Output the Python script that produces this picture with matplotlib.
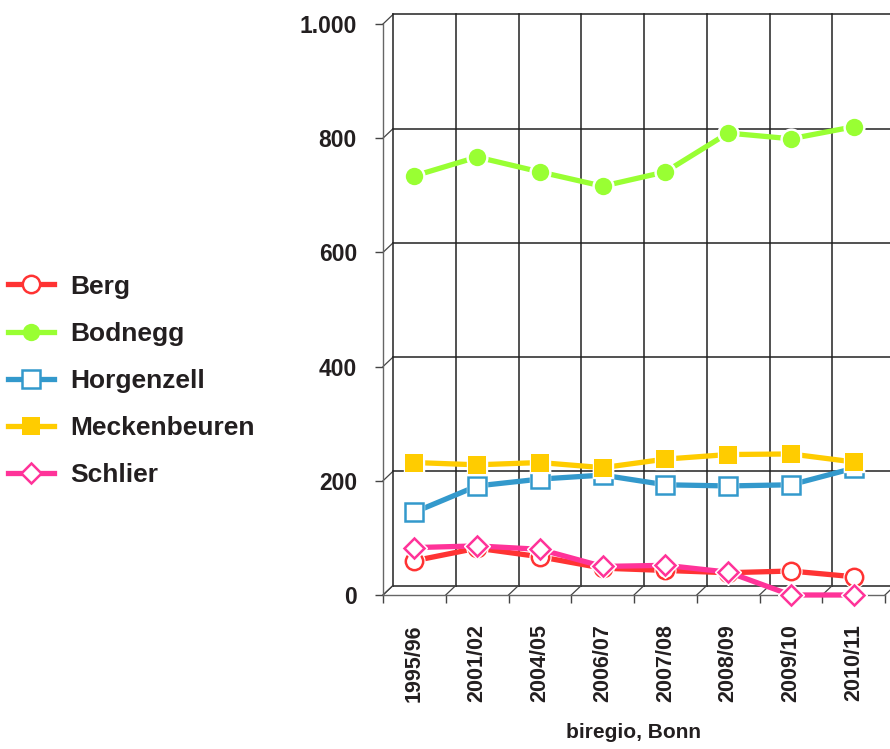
import matplotlib
matplotlib.use('Agg')
import matplotlib.pyplot as plt
from matplotlib.lines import Line2D

plt.rcParams['font.family'] = ['Liberation Sans', 'DejaVu Sans']
plt.rcParams['font.weight'] = 'bold'

# data
categories = ['1995/96', '2001/02', '2004/05', '2006/07', '2007/08', '2008/09', '2009/10', '2010/11']
berg = [60, 82, 67, 47, 43, 39, 42, 32]
bodnegg = [734, 767, 741, 716, 741, 809, 799, 820]
horgenzell = [145, 191, 203, 210, 193, 191, 193, 222]
meckenbeuren = [232, 228, 232, 223, 238, 246, 247, 233]
schlier = [83, 86, 80, 50, 52, 40, 0, 0]
y_ticks = [0, 200, 400, 600, 800, 1000]
y_labels = ['0', '200', '400', '600', '800', '1.000']
source = 'biregio, Bonn'

series = [
    ('Berg', berg, '#ff3333', 'o', 'white'),
    ('Bodnegg', bodnegg, '#99ff33', 'o', None),
    ('Horgenzell', horgenzell, '#3399cc', 's', 'white'),
    ('Meckenbeuren', meckenbeuren, '#ffcc00', 's', None),
    ('Schlier', schlier, '#ff3399', 'D', 'white'),
]

W, H = 890, 749
fig = plt.figure(figsize=(W / 100, H / 100), dpi=100)
ax = fig.add_axes([383 / W, 1 - 595 / H, 502 / W, 571 / H])
n = len(categories)
ax.set_xlim(0, n); ax.set_ylim(0, 1000)

# pseudo-3d back wall: offset in data units (10px right, 9.5px up)
dx = 10 / (502 / n); dy = 9.5 / (571 / 1000)
wall = dict(color='#222222', lw=1.1, clip_on=False, zorder=1)
for v in y_ticks:
    ax.plot([dx, n + dx], [v + dy, v + dy], **wall)
    ax.plot([0, dx], [v, v + dy], color='#444444', lw=0.9, clip_on=False, zorder=1)
for i in range(n + 1):
    ax.plot([i + dx, i + dx], [dy, 1000 + dy], **wall)
    ax.plot([i, i + dx], [0, dy], color='#444444', lw=0.9, clip_on=False, zorder=1)

x = [i + 0.5 for i in range(n)]
handles = []
for k, (name, vals, col, mk, face) in enumerate(series):
    z = 3 + k
    ms = 12.5 if mk != 'D' else 10.5
    ax.plot(x, vals, color=col, lw=3.8, solid_capstyle='butt', clip_on=False, zorder=z)
    ax.plot(x, vals, ls='none', marker=mk, ms=ms + 2.5, mfc='white', mec='white',
            clip_on=False, zorder=z)
    ax.plot(x, vals, ls='none', marker=mk, ms=ms, mfc=face if face else col, mec=col,
            mew=1.8 if face else 0, clip_on=False, zorder=z)
    handles.append(Line2D([], [], color=col, lw=3.8, marker=mk, ms=ms,
                          mfc=face if face else col, mec=col, mew=1.8 if face else 0))

for s in ['top', 'right']:
    ax.spines[s].set_visible(False)
for s in ['left', 'bottom']:
    ax.spines[s].set_color('#666666'); ax.spines[s].set_linewidth(1.0)

ax.set_yticks(y_ticks)
ax.set_yticklabels(y_labels, fontsize=16.5, fontweight='bold', color='#231f20')
ax.set_xticks(range(n + 1)); ax.set_xticklabels([])
ax.set_xticks(x, minor=True)
ax.set_xticklabels(categories, minor=True, rotation=90, fontsize=15.5, fontweight='bold',
                   color='#231f20', va='top')
ax.tick_params(axis='both', which='major', length=5.8, width=1.0, color='#444444')
ax.tick_params(axis='y', pad=13)
ax.tick_params(axis='x', which='minor', length=0, pad=21)

fig.legend(handles, [s[0] for s in series], loc='center left',
           bbox_to_anchor=(0.0, 1 - 381 / H), frameon=False, prop={'size': 19, 'weight': 'bold'},
           handlelength=1.75, handletextpad=0.6, labelspacing=0.88, borderaxespad=0,
           borderpad=0.3)
for t in fig.legends[0].get_texts():
    t.set_color('#231f20')

fig.text(633 / W, 1 - 733 / H, source, ha='center', va='center', fontsize=15,
         fontweight='bold', color='#231f20')

fig.savefig('out.png', dpi=100)
